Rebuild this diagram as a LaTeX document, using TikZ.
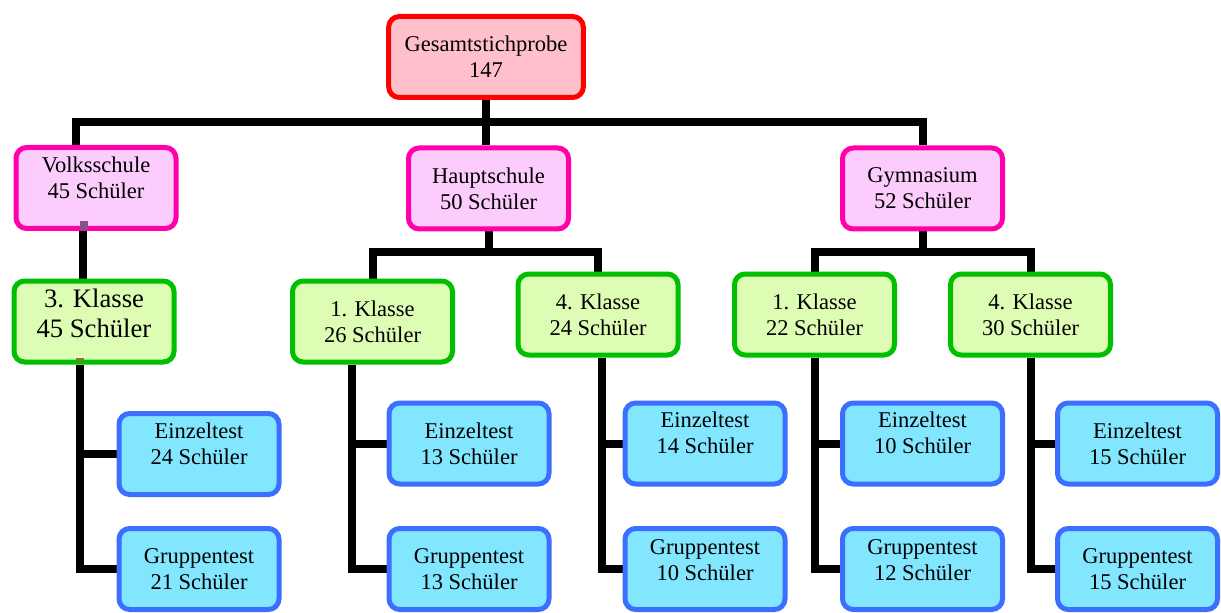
\documentclass[tikz,border=0pt]{standalone}
\usepackage{fontspec}
\setmainfont{Liberation Serif}
\usetikzlibrary{backgrounds}

\definecolor{gesamtrand}{RGB}{255,0,0}
\definecolor{gesamtfill}{RGB}{255,192,203}
\definecolor{schulrand}{RGB}{255,0,170}
\definecolor{schulfill}{RGB}{252,204,252}
\definecolor{klasserand}{RGB}{0,190,0}
\definecolor{klassefill}{RGB}{221,253,180}
\definecolor{testrand}{RGB}{60,110,255}
\definecolor{testfill}{RGB}{130,230,255}

\tikzset{
  kasten/.style={draw, rounded corners=8pt, line width=3.75pt, minimum width=120pt,
    minimum height=60.75pt, align=center, inner sep=1pt,
    font=\fontsize{16.9}{19.5}\selectfont},
  gesamt/.style={kasten, draw=gesamtrand, fill=gesamtfill, minimum width=146pt},
  schule/.style={kasten, draw=schulrand, fill=schulfill},
  klasse/.style={kasten, draw=klasserand, fill=klassefill},
  test/.style={kasten, draw=testrand, fill=testfill},
  hoch/.style={text depth=#1},
  linie/.style={line width=6pt, black},
}

\begin{document}
\begin{tikzpicture}[x=0.75pt,y=0.75pt,yscale=-1]
\useasboundingbox (0,0) rectangle (1221,613);

% Gesamt
\node[gesamt] (top) at (486,57) {Gesamtstichprobe\\147};

% Schularten
\node[schule,hoch=16pt] (vs) at (96,188) {Volksschule\\45 Schüler};
\node[schule] (hs) at (488.5,188.5) {Hauptschule\\50 Schüler};
\node[schule] (gy) at (922.5,188.5) {Gymnasium\\52 Schüler};

% Klassen
\node[klasse,hoch=12pt,font=\fontsize{20}{22.5}\selectfont] (vs3) at (94,321.5) {3. Klasse\\45 Schüler};
\node[klasse] (hs1) at (372.5,321.5) {1. Klasse\\26 Schüler};
\node[klasse] (hs4) at (598,314.5) {4. Klasse\\24 Schüler};
\node[klasse] (gy1) at (814.5,314.5) {1. Klasse\\22 Schüler};
\node[klasse] (gy4) at (1030.5,314.5) {4. Klasse\\30 Schüler};

% Tests
\node[test,hoch=16pt] (vsE) at (199,454) {Einzeltest\\24 Schüler};
\node[test] (vsG) at (199,569) {Gruppentest\\21 Schüler};
\node[test] (hs1E) at (469,443.5) {Einzeltest\\13 Schüler};
\node[test] (hs1G) at (469,569) {Gruppentest\\13 Schüler};
\node[test,hoch=16pt] (hs4E) at (705,443.5) {Einzeltest\\14 Schüler};
\node[test,hoch=14pt] (hs4G) at (705,569) {Gruppentest\\10 Schüler};
\node[test,hoch=16pt] (gy1E) at (922.5,443.5) {Einzeltest\\10 Schüler};
\node[test,hoch=14pt] (gy1G) at (922.5,569) {Gruppentest\\12 Schüler};
\node[test] (gy4E) at (1137.5,443.5) {Einzeltest\\15 Schüler};
\node[test] (gy4G) at (1137.5,569) {Gruppentest\\15 Schüler};

% Verbindungen
\coordinate (topbus) at (486,122);
\coordinate (vsab) at ([xshift=-9.75pt]vs.south);
\coordinate (vsbus) at ([xshift=-10.5pt]vs3.south);
\coordinate (hs1bus) at ([xshift=-15.4pt]hs1.south);
\coordinate (hs4bus) at ([xshift=3pt]hs4.south);
\begin{scope}[on background layer]
\draw[linie] (top.south) -- (top.south |- hs.north);
\draw[linie] ([xshift=-15pt]vs.north) |- (topbus) -| (gy.north);
\draw[linie] (vsab) -- (vsab |- vs3.north);
\draw[linie] (hs.south) -- ++(0,20) coordinate (hsbus);
\draw[linie] (hs1.north) |- (hsbus) -| (hs4.north);
\draw[linie] (gy.south) -- ++(0,20) coordinate (gybus);
\draw[linie] (gy1.north) |- (gybus) -| (gy4.north);

\draw[linie] (vsbus) |- (vsG.west);
\draw[linie] (vsbus |- vsE.west) -- (vsE.west);
\draw[linie] (hs1bus) |- (hs1G.west);
\draw[linie] (hs1bus |- hs1E.west) -- (hs1E.west);
\draw[linie] (hs4bus) |- (hs4G.west);
\draw[linie] (hs4bus |- hs4E.west) -- (hs4E.west);
\draw[linie] (gy1.south) |- (gy1G.west);
\draw[linie] (gy1.south |- gy1E.west) -- (gy1E.west);
\draw[linie] (gy4.south) |- (gy4G.west);
\draw[linie] (gy4.south |- gy4E.west) -- (gy4E.west);
\end{scope}

% kleine Marken
\fill[fill={rgb,255:red,140;green,80;blue,140}] (80,221) rectangle (88,230);
\fill[fill={rgb,255:red,110;green,130;blue,40}] (76,358) rectangle (84,362);

\end{tikzpicture}
\end{document}
